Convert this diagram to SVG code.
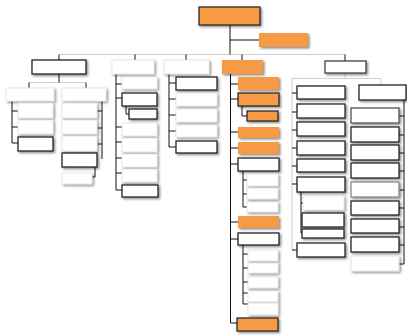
<svg xmlns="http://www.w3.org/2000/svg" width="407" height="335" viewBox="0 0 407 335">
<defs>
<filter id="sh" x="-20%" y="-30%" width="140%" height="170%">
<feDropShadow dx="1.5" dy="1.5" stdDeviation="0.8" flood-color="#000" flood-opacity="0.45"/>
</filter>
<style>
rect{filter:url(#sh)}
.lt{fill:#fff;stroke:#e2e2e2;stroke-width:0.8}
.dk{fill:#fff;stroke:#222;stroke-width:1.3}
.or{fill:#f79a44;stroke:none}
.ork{fill:#f79a44;stroke:#222;stroke-width:1.2}
.c{stroke:#111;stroke-width:1;fill:none}
.cl{stroke:#cfcfcf;stroke-width:1;fill:none}
</style>
</defs>
<rect width="407" height="335" fill="#fff" style="filter:none"/>
<g id="connectors">
<path class="cl" d="M59,54.5H345M29,82.5H86M345,73V78.5M292,78.5H381V85M292,78.5V250"/>
<path class="c" d="M230,25V54.5M230,40H259"/>
<path class="c" d="M59,54.5V60M135,54.5V60M186,54.5V60M242,54.5V60M345,54.5V61"/>
<path class="c" d="M59,74V82.5M29,82.5V88M86,82.5V88"/>
<path class="c" d="M12,101V143M12,111H18M12,127H18M12,143H18"/>
<path class="c" d="M102,101V159M97,111H102M97,128H102M97,144H102M95,167V177H92"/>
<path class="c" d="M116,74V190M116,84H122M116,98H122M116,127H122M116,142H122M116,158H122M116,173H122M116,190H122M126,106V114H129"/>
<path class="c" d="M169,74V147M169,83H176M169,99H176M169,115H176M169,131H176M169,147H176"/>
<path class="c" d="M230.5,74V323M230.5,84H238M230.5,99H238M230.5,132H238M230.5,148H238M230.5,164H238M230.5,222H238M230.5,239H238M230.5,323H237"/>
<path class="c" d="M242,106V116H247M243,171V207M243,180H247M243,194H247M243,207H247"/>
<path class="c" d="M243,245V304M243,254H248M243,268H248M243,282H248M243,293H248M243,304H248"/>
<path class="c" d="M292,93H297M292,112H297M292,130H297M292,148H297M292,166H297M292,184H297M292,250H297"/>
<path class="c" d="M301,192V233M301,203H303M301,221H302M301,233H302"/>
<path class="c" d="M404,100V264M399,116H404M399,135H404M399,153H404M399,171H404M399,190H404M399,208H404M399,227H404M399,245H404M399,264H404"/>
</g>
<g id="root"><rect class="ork" x="199" y="7" width="61" height="18"/></g>
<g id="assistant"><rect class="or" x="259" y="33" width="49" height="14"/></g>
<g id="A"><rect class="dk" x="32" y="60" width="54" height="14"/></g>
<g id="B"><rect class="lt" x="112" y="60" width="42" height="14"/></g>
<g id="C"><rect class="lt" x="164" y="60" width="45" height="14"/></g>
<g id="D"><rect class="or" x="222" y="60" width="41" height="14"/></g>
<g id="E"><rect class="dk" x="325" y="61" width="41" height="12" style="stroke:#444"/></g>
<g id="A1"><rect class="lt" x="6" y="88" width="48" height="13"/></g>
<g id="A2"><rect class="lt" x="62" y="88" width="44" height="13"/></g>
<g id="A1a"><rect class="lt" x="18" y="103" width="35" height="15"/></g>
<g id="A1b"><rect class="lt" x="18" y="120" width="35" height="14"/></g>
<g id="A1c"><rect class="dk" x="18" y="137" width="35" height="14"/></g>
<g id="A2a"><rect class="lt" x="62" y="103" width="35" height="15"/></g>
<g id="A2b"><rect class="lt" x="62" y="120" width="35" height="14"/></g>
<g id="A2c"><rect class="lt" x="62" y="136" width="35" height="15"/></g>
<g id="A2d"><rect class="dk" x="62" y="153" width="35" height="14"/></g>
<g id="A2e"><rect class="lt" x="62" y="173" width="30" height="11"/></g>
<g id="B1"><rect class="lt" x="122" y="77" width="35" height="12"/></g>
<g id="B2"><rect class="dk" x="122" y="93" width="35" height="13"/></g>
<g id="B2a"><rect class="dk" x="129" y="109" width="28" height="10"/></g>
<g id="B3"><rect class="lt" x="122" y="123" width="35" height="13"/></g>
<g id="B4"><rect class="lt" x="122" y="138" width="35" height="14"/></g>
<g id="B5"><rect class="lt" x="122" y="154" width="35" height="13"/></g>
<g id="B6"><rect class="lt" x="122" y="169" width="35" height="13"/></g>
<g id="B7"><rect class="dk" x="122" y="185" width="36" height="12"/></g>
<g id="C1"><rect class="dk" x="176" y="77" width="41" height="13"/></g>
<g id="C2"><rect class="lt" x="176" y="93" width="41" height="13"/></g>
<g id="C3"><rect class="lt" x="176" y="109" width="41" height="13"/></g>
<g id="C4"><rect class="lt" x="176" y="125" width="41" height="12"/></g>
<g id="C5"><rect class="dk" x="176" y="141" width="41" height="12"/></g>
<g id="D1"><rect class="or" x="238" y="77" width="41" height="13"/></g>
<g id="D2"><rect class="ork" x="238" y="93" width="41" height="13"/></g>
<g id="D2a"><rect class="ork" x="247" y="111" width="31" height="10"/></g>
<g id="D3"><rect class="or" x="238" y="127" width="41" height="11"/></g>
<g id="D4"><rect class="or" x="238" y="142" width="41" height="12"/></g>
<g id="D5"><rect class="dk" x="238" y="158" width="41" height="13"/></g>
<g id="D5a"><rect class="lt" x="247" y="174" width="31" height="12"/></g>
<g id="D5b"><rect class="lt" x="247" y="188" width="31" height="11"/></g>
<g id="D5c"><rect class="lt" x="247" y="202" width="31" height="10"/></g>
<g id="D6"><rect class="or" x="238" y="216" width="41" height="12"/></g>
<g id="D7"><rect class="dk" x="238" y="233" width="41" height="12"/></g>
<g id="D7a"><rect class="lt" x="248" y="250" width="30" height="11"/></g>
<g id="D7b"><rect class="lt" x="248" y="263" width="30" height="10"/></g>
<g id="D7c"><rect class="lt" x="248" y="277" width="30" height="11"/></g>
<g id="D7d"><rect class="lt" x="248" y="291" width="30" height="11"/></g>
<g id="D7e"><rect class="lt" x="248" y="303" width="30" height="12"/></g>
<g id="D8"><rect class="ork" x="237" y="318" width="41" height="13"/></g>
<g id="E1a"><rect class="dk" x="297" y="86" width="48" height="13"/></g>
<g id="E1b"><rect class="dk" x="297" y="104" width="48" height="14"/></g>
<g id="E1c"><rect class="dk" x="297" y="122" width="48" height="14"/></g>
<g id="E1d"><rect class="dk" x="297" y="141" width="48" height="14"/></g>
<g id="E1e"><rect class="dk" x="297" y="159" width="48" height="13"/></g>
<g id="E1f"><rect class="dk" x="297" y="177" width="48" height="15"/></g>
<g id="E1f1"><rect class="lt" x="303" y="196" width="41" height="14"/></g>
<g id="E1f2"><rect class="dk" x="302" y="213" width="42" height="14"/></g>
<g id="E1f3"><rect class="dk" x="302" y="229" width="42" height="9"/></g>
<g id="E1g"><rect class="dk" x="297" y="243" width="48" height="14"/></g>
<g id="E2"><rect class="dk" x="359" y="85" width="47" height="15"/></g>
<g id="E2a"><rect class="dk" x="351" y="108" width="48" height="15" style="stroke:#555"/></g>
<g id="E2b"><rect class="dk" x="351" y="127" width="48" height="15"/></g>
<g id="E2c"><rect class="dk" x="351" y="145" width="48" height="15"/></g>
<g id="E2d"><rect class="dk" x="351" y="163" width="48" height="15"/></g>
<g id="E2e"><rect class="dk" x="351" y="182" width="48" height="15" style="stroke:#888"/></g>
<g id="E2f"><rect class="dk" x="351" y="201" width="48" height="14"/></g>
<g id="E2g"><rect class="dk" x="351" y="219" width="48" height="14"/></g>
<g id="E2h"><rect class="dk" x="351" y="237" width="48" height="15"/></g>
<g id="E2i"><rect class="lt" x="351" y="256" width="48" height="15"/></g>
</svg>
